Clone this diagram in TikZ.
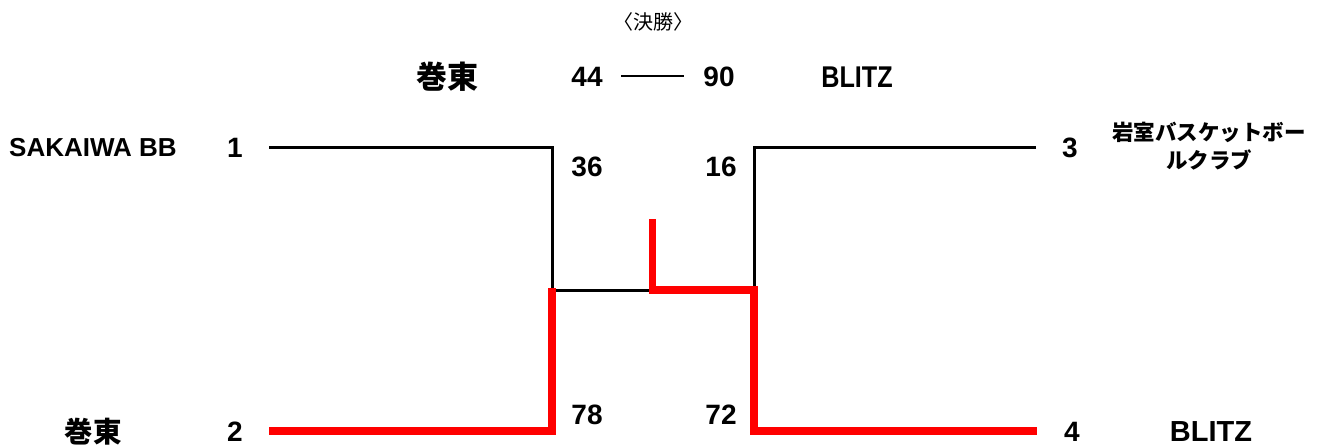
\documentclass[tikz,border=0pt]{standalone}
\usepackage{fontspec}
\setmainfont{Liberation Sans}
\newfontfamily\jp{Noto Sans CJK JP}
\tikzset{
  lbl/.style={inner sep=0pt, anchor=center},
  num/.style={lbl, font=\bfseries\fontsize{28}{28}\selectfont},
  tname/.style={lbl, font=\bfseries\fontsize{26}{26}\selectfont},
  jname/.style={lbl, font=\jp\bfseries\fontsize{28.5}{28.5}\selectfont},
  wire/.style={line width=3pt, black, line join=miter},
  win/.style={line width=7.5pt, red, line join=miter},
}
\begin{document}
\begin{tikzpicture}[x=1pt, y=-1pt]
\useasboundingbox (0,0) rectangle (1325,447);
% title
\node[lbl, font=\jp\fontsize{20}{20}\selectfont] (title) at (653,22) {〈決勝〉};
% final row
\node[jname, font=\jp\bfseries\fontsize{31}{31}\selectfont] (fL) at (447,77) {巻東};
\node[num] (fs1) at (587,77) {44};
\node[num] (fs2) at (719,77) {90};
\node[tname, font=\bfseries\fontsize{30}{30}\selectfont, xscale=0.84] (fR) at (857,77) {BLITZ};
\coordinate (dA) at (621,76);
\coordinate (dB) at (684,76);
\draw[line width=2.6pt] (dA) -- (dB);
% teams
\node[tname] (t1) at (93,148) {SAKAIWA BB};
\node[num] (n1) at (235,148) {1};
\node[jname] (t2) at (93,432) {巻東};
\node[num] (n2) at (235,432) {2};
\node[num] (n3) at (1070,148) {3};
\node[lbl, font=\jp\bfseries\fontsize{21.5}{28}\selectfont, align=center] (t3) at (1209,146) {岩室バスケットボー\\ルクラブ};
\node[num] (n4) at (1072,432) {4};
\node[tname, font=\bfseries\fontsize{29}{29}\selectfont] (t4) at (1211,432) {BLITZ};
% scores
\node[num] (s1) at (587,167) {36};
\node[num] (s3) at (721,167) {16};
\node[num] (s2) at (587,415) {78};
\node[num] (s4) at (721,415) {72};
% bracket points
\coordinate (a1) at (269,147.5);
\coordinate (b1) at (552,147.5);
\coordinate (a2) at (269,431);
\coordinate (b2) at (552,431);
\coordinate (m1) at (552,290);
\coordinate (m2) at (652.5,290);
\coordinate (a3) at (1036,147.5);
\coordinate (b3) at (754,147.5);
\coordinate (a4) at (1037,431);
\coordinate (b4) at (754,431);
\coordinate (m4) at (754,290);
\coordinate (top) at (652.5,219);
\coordinate (m2top) at (552,287.5);
% black lines
\draw[wire] (a1) -- (b1) -- (m1) -- (m2);
\draw[wire] (a3) -- (b3) -- (m4);
% red winner lines
\draw[win] (a2) -- (b2) -- (m2top);
\draw[win] (top) -- (m2) -- (m4) -- (b4) -- (a4);
\end{tikzpicture}
\end{document}
